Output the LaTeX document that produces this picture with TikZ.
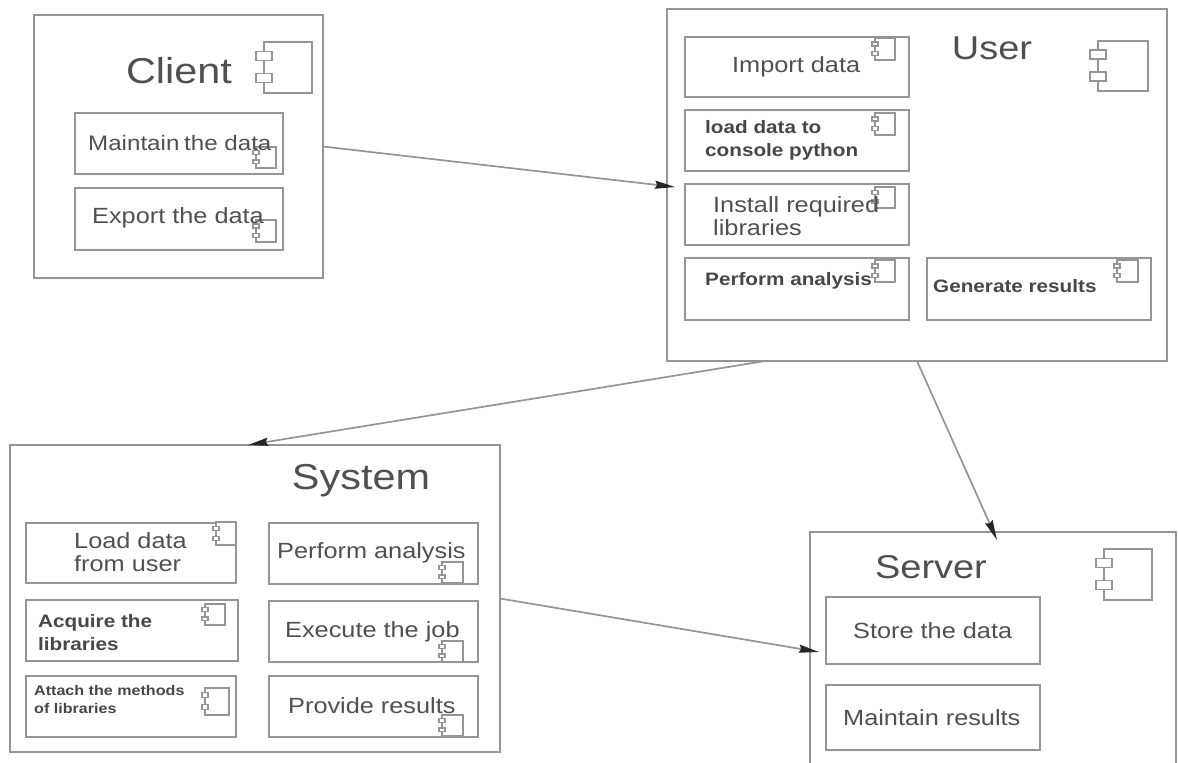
\documentclass[tikz,border=0pt]{standalone}
\usepackage{fontspec}
\setmainfont[FakeStretch=1.15]{Liberation Sans}
\usetikzlibrary{arrows.meta,calc}
\definecolor{linegray}{HTML}{959595}
\definecolor{inkgray}{HTML}{505050}
\tikzset{
  outerbox/.style={draw=linegray,line width=1.7pt,fill=white,inner sep=0pt,outer sep=0pt},
  innerbox/.style={draw=linegray,line width=1.6pt,fill=white,inner sep=0pt,outer sep=0pt},
  title/.style={text=inkgray,inner sep=0pt,anchor=center},
  lab/.style={text=inkgray,inner sep=0pt,anchor=west,align=left,font=\fontsize{22}{23}\selectfont},
  labb/.style={text=black!72,inner sep=0pt,anchor=west,align=left,font=\fontsize{18}{23}\selectfont\bfseries},
  iconline/.style={draw=linegray,line width=1.2pt,fill=white},
  conn/.style={draw=linegray,line width=1.7pt,-{Stealth[length=20pt,width=8pt,inset=2pt,color=black!85]}}
}
% \boxat{name}{style}{x1}{y1}{x2}{y2}
\newcommand{\boxat}[6]{%
  \node[#2,minimum width={(#5-#3)*1pt},minimum height={(#6-#4)*1pt}] (#1) at ({(#3+#5)/2},{(#4+#6)/2}) {};}
% \iconat{x1}{y1}{x2}{y2}{tabhalfwidth}
\newcommand{\iconat}[5]{%
  \path[iconline] (#1,#2) rectangle (#3,#4);
  \path[iconline] ({#1-#5},{#2+(#4-#2)*0.18}) rectangle ({#1+#5},{#2+(#4-#2)*0.36});
  \path[iconline] ({#1-#5},{#2+(#4-#2)*0.62}) rectangle ({#1+#5},{#2+(#4-#2)*0.80});}
\begin{document}
\begin{tikzpicture}[x=1pt,y=-1pt]
\path[use as bounding box,clip] (0,0) rectangle (1178,763);
\fill[white] (0,0) rectangle (1178,763);
% Client
\boxat{client}{outerbox}{34}{15}{323}{278}
\iconat{264}{42}{312}{93}{8}
\node[title,font=\fontsize{36}{40}\selectfont] (clientT) at (179,71) {Client};
\boxat{cMaintain}{innerbox}{75}{113}{283}{174}
\boxat{cExport}{innerbox}{75}{188}{283}{250}
\iconat{256}{147}{276}{168}{3}
\iconat{256}{220}{276}{242}{3}
\node[lab,font=\fontsize{21}{23}\selectfont] (cMaintainT) at (88,143) {Maintain\hspace{-2pt} the data};
\node[lab] (cExportT) at (92,218) {Export the data};
% User
\boxat{user}{outerbox}{667}{9}{1167}{361}
\iconat{1098}{41}{1148}{91}{8}
\node[title,font=\fontsize{33}{40}\selectfont] (userT) at (992,48) {User};
\boxat{uImport}{innerbox}{685}{37}{909}{97}
\boxat{uLoad}{innerbox}{685}{110}{909}{171}
\boxat{uInstall}{innerbox}{685}{184}{909}{245}
\boxat{uPerform}{innerbox}{685}{258}{909}{320}
\boxat{uGenerate}{innerbox}{927}{258}{1151}{320}
\iconat{875}{38}{895}{60}{3}
\iconat{875}{113}{895}{135}{3}
\iconat{875}{187}{895}{208}{3}
\iconat{875}{260}{895}{282}{3}
\iconat{1117}{260}{1138}{282}{3}
\node[lab] (uImportT) at (732,67) {Import data};
\node[labb] (uLoadT) at (705,140) {load data to\\console python};
\node[lab] (uInstallT) at (713,216) {Install required\\libraries};
\node[labb] (uPerformT) at (705,281) {Perform analysis};
\node[labb] (uGenerateT) at (933,286) {Generate results};
% System
\boxat{system}{outerbox}{10}{445}{500}{752}
\node[title,font=\fontsize{36}{40}\selectfont] (systemT) at (361,481) {System};
\boxat{sLoad}{innerbox}{26}{523}{236}{583}
\boxat{sAcquire}{innerbox}{26}{600}{238}{661}
\boxat{sAttach}{innerbox}{26}{676}{236}{737}
\boxat{sPerform}{innerbox}{269}{523}{478}{584}
\boxat{sExecute}{innerbox}{269}{601}{478}{662}
\boxat{sProvide}{innerbox}{269}{676}{478}{737}
\iconat{216}{522}{236}{545}{3}
\iconat{205}{604}{225}{625}{3}
\iconat{205}{688}{229}{715}{3}
\iconat{442}{562}{463}{583}{3}
\iconat{442}{641}{463}{662}{3}
\iconat{442}{715}{463}{736}{3}
\node[lab] (sLoadT) at (74,552) {Load data\\from user};
\node[labb] (sAcquireT) at (38,633) {Acquire the\\libraries};
\node[labb,font=\fontsize{14}{18}\selectfont\bfseries] (sAttachT) at (34,699) {Attach the methods\\of libraries};
\node[lab] (sPerformT) at (277,553) {Perform analysis};
\node[lab] (sExecuteT) at (285,632) {Execute the job};
\node[lab] (sProvideT) at (288,706) {Provide results};
% Server
\boxat{server}{outerbox}{810}{532}{1176}{800}
\iconat{1104}{549}{1152}{600}{8}
\node[title,font=\fontsize{33}{40}\selectfont] (serverT) at (931,567) {Server};
\boxat{vStore}{innerbox}{826}{597}{1040}{664}
\boxat{vMaintain}{innerbox}{826}{685}{1040}{750}
\node[lab] (vStoreT) at (853,631) {Store the data};
\node[lab] (vMaintainT) at (843,718) {Maintain results};
% Connectors
\draw[conn] (client.east) -- ($(user.west)+(8,2)$);
\draw[conn] ($(user.south west)+(98,0)$) -- ($(system.north)+(-7,0)$);
\draw[conn] (user.south) -- ($(server.north)+(4,8)$);
\draw[conn] (system.east) -- ($(server.north west)+(9,120)$);
\end{tikzpicture}
\end{document}
